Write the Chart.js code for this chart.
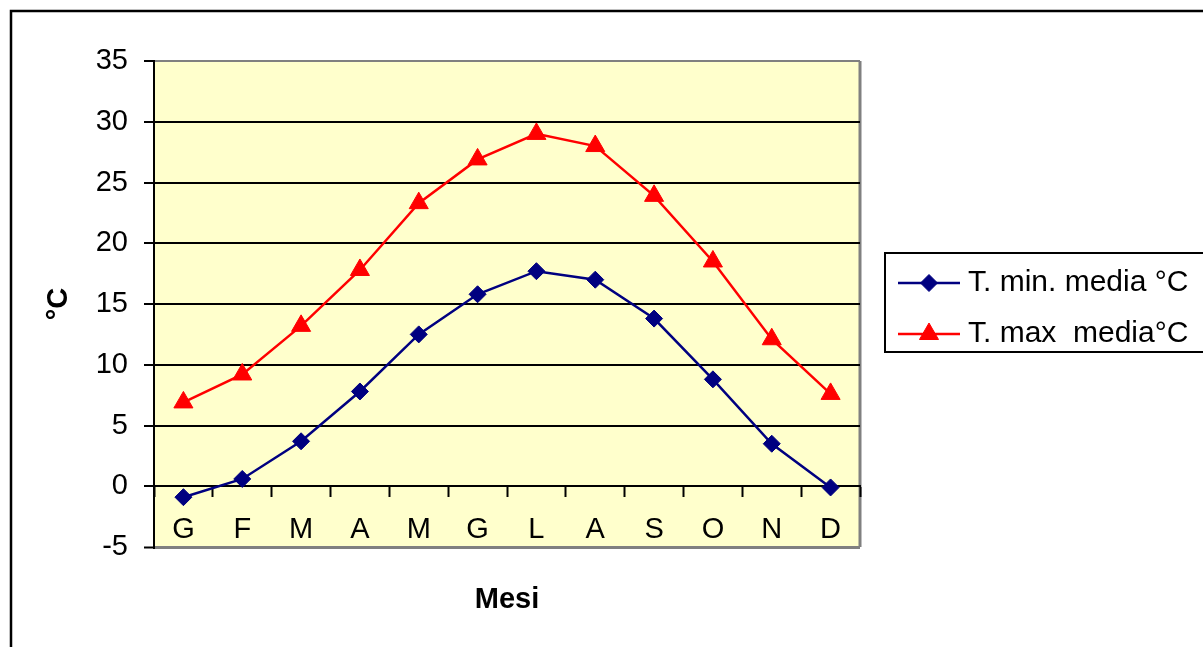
<!DOCTYPE html>
<html>
<head>
<meta charset="utf-8">
<title>Temperature medie mensili</title>
<script src="https://cdn.jsdelivr.net/npm/chart.js"></script>
<style>
    html, body { margin: 0; padding: 0; background: #ffffff; }
    #wrap { width: 1203px; height: 647px; }
</style>
</head>
<body>
<div id="wrap"><canvas id="tempChart" width="1203" height="647"></canvas></div>
<script>
// Chart data
const months = ['G', 'F', 'M', 'A', 'M', 'G', 'L', 'A', 'S', 'O', 'N', 'D'];
const tMin = [-0.9, 0.6, 3.7, 7.8, 12.5, 15.8, 17.7, 17.0, 13.8, 8.8, 3.5, -0.1];
const tMax = [6.9, 9.2, 13.2, 17.8, 23.3, 26.9, 29.0, 28.0, 23.9, 18.5, 12.1, 7.6];
const seriesLabels = ['T. min. media °C', 'T. max  media°C'];
const yTicks = [-5, 0, 5, 10, 15, 20, 25, 30, 35];

const FONT = 'Arial, "Liberation Sans", sans-serif';

/**
 * Plot background, outer frame and the custom legend box
 */
const decorPlugin = {
    id: 'decor',
    beforeDraw(chart) {
        const { ctx, chartArea: a } = chart;
        ctx.save();
        // outer frame
        ctx.strokeStyle = '#000';
        ctx.lineWidth = 2.5;
        ctx.strokeRect(11, 11, 1400, 1000);
        // plot area
        ctx.fillStyle = '#FFFFCC';
        ctx.fillRect(a.left, a.top, a.right - a.left, a.bottom - a.top);
        ctx.strokeStyle = '#808080';
        ctx.lineWidth = 3;
        ctx.beginPath();
        ctx.moveTo(a.right, a.top);
        ctx.lineTo(a.right, a.bottom);
        ctx.stroke();
        ctx.restore();
    },
    afterDraw(chart) {
        const { ctx } = chart;
        const boxX = 885, boxY = 253, rowY = [283, 334];
        ctx.save();
        ctx.strokeStyle = '#000';
        ctx.lineWidth = 2;
        ctx.strokeRect(boxX, boxY, 400, 99);
        chart.data.datasets.forEach((ds, i) => {
            const y = rowY[i];
            ctx.strokeStyle = ds.borderColor;
            ctx.lineWidth = 2.5;
            ctx.beginPath();
            ctx.moveTo(898, y);
            ctx.lineTo(960, y);
            ctx.stroke();
            ctx.fillStyle = ds.pointBackgroundColor;
            ctx.strokeStyle = ds.borderColor;
            ctx.lineWidth = 1;
            if (Chart.helpers && Chart.helpers.drawPoint) {
                Chart.helpers.drawPoint(ctx, {
                    pointStyle: ds.pointStyle,
                    radius: ds.pointRadius,
                    rotation: 0,
                    borderWidth: 1
                }, 929, y);
            }
            ctx.fillStyle = '#000';
            ctx.font = '30px ' + FONT;
            ctx.textBaseline = 'middle';
            ctx.textAlign = 'left';
            ctx.fillText(ds.label, 968, y);
        });
        ctx.restore();
    }
};

/**
 * Build the chart
 */
function buildChart() {
    const ctx = document.getElementById('tempChart');
    return new Chart(ctx, {
        type: 'line',
        data: {
            labels: months,
            datasets: [{
                label: seriesLabels[0],
                data: tMin,
                borderColor: '#000080',
                backgroundColor: '#000080',
                pointBackgroundColor: '#000080',
                borderWidth: 2.5,
                pointStyle: 'rectRot',
                pointRadius: 8.5,
                pointBorderWidth: 1,
                tension: 0
            }, {
                label: seriesLabels[1],
                data: tMax,
                borderColor: '#FF0000',
                backgroundColor: '#FF0000',
                pointBackgroundColor: '#FF0000',
                borderWidth: 2.5,
                pointStyle: 'triangle',
                pointRadius: 11,
                pointBorderWidth: 1,
                tension: 0
            }]
        },
        options: {
            responsive: false,
            animation: false,
            layout: { padding: { left: 40, right: 343, top: 61, bottom: 100 } },
            plugins: {
                legend: { display: false },
                tooltip: { enabled: false }
            },
            scales: {
                x: {
                    type: 'category',
                    position: { y: 0 },
                    offset: true,
                    grid: {
                        drawOnChartArea: false,
                        drawTicks: true,
                        tickLength: 10,
                        tickWidth: 2,
                        tickColor: '#000',
                        offset: true
                    },
                    border: { display: true, color: '#000', width: 2 },
                    ticks: {
                        color: '#000',
                        padding: 16,
                        maxRotation: 0,
                        font: { family: FONT, size: 29 }
                    },
                    title: {
                        display: true,
                        text: 'Mesi',
                        color: '#000',
                        padding: 0,
                        font: { family: FONT, size: 29, weight: 'bold' }
                    },
                    afterFit(scale) { scale.height = 131; }
                },
                y: {
                    min: yTicks[0],
                    max: yTicks[yTicks.length - 1],
                    afterBuildTicks(scale) {
                        scale.ticks = yTicks.map(v => ({ value: v }));
                    },
                    grid: {
                        color: c => (c.tick && (c.tick.value === 35 || c.tick.value === -5)) ? '#808080' : '#000',
                        lineWidth: c => (c.tick && c.tick.value === -5) ? 3 : 2,
                        drawTicks: true,
                        tickLength: 10,
                        tickColor: '#000',
                        tickWidth: 2
                    },
                    border: { display: true, color: '#000', width: 2 },
                    ticks: {
                        color: '#000',
                        padding: 16,
                        font: { family: FONT, size: 29 }
                    },
                    title: {
                        display: true,
                        text: '°C',
                        color: '#000',
                        padding: { top: 2, bottom: 0 },
                        font: { family: FONT, size: 29, weight: 'bold' }
                    },
                    afterFit(scale) { scale.width = 114; }
                }
            }
        },
        plugins: [decorPlugin]
    });
}

document.addEventListener('DOMContentLoaded', function() {
    buildChart();
});
</script>
</body>
</html>
